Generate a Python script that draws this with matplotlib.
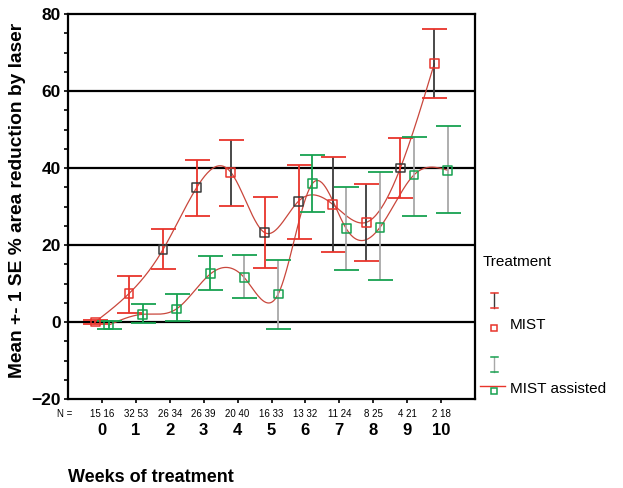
import numpy as np
import matplotlib
matplotlib.use("Agg")
import matplotlib.pyplot as plt

plt.rcParams["font.family"] = ["Liberation Sans", "DejaVu Sans"]

# data
weeks = np.arange(11)
mist_mean = [0.0, 7.4, 18.8, 35.0, 38.9, 23.2, 31.4, 30.6, 25.9, 40.0, 67.1]
mist_lo = [-0.6, 2.4, 13.7, 27.6, 30.1, 14.0, 21.5, 18.3, 15.8, 32.3, 58.1]
mist_hi = [0.6, 11.9, 24.2, 42.1, 47.4, 32.5, 40.9, 42.8, 35.9, 47.8, 76.0]

assist_mean = [-0.8, 2.0, 3.4, 12.5, 11.5, 7.3, 35.9, 24.3, 24.6, 38.2, 39.4]
assist_lo = [-1.9, -0.3, 0.2, 8.4, 6.2, -1.9, 28.7, 13.5, 10.8, 27.6, 28.3]
assist_hi = [0.2, 4.8, 7.2, 17.1, 17.4, 16.0, 43.4, 35.1, 39.0, 48.1, 50.9]

n_mist = [15, 32, 26, 26, 20, 16, 13, 11, 8, 4, 2]
n_assist = [16, 53, 34, 39, 40, 33, 32, 24, 25, 21, 18]

RED = "#e8342b"
GREEN = "#17a150"
GRAY = "#a8a8a8"
DARK = "#3a3a3a"
CURVE = "#c9473c"

# stem colours of the error bars (mixed in the original print)
mist_stems = [RED, RED, RED, RED, DARK, RED, RED, DARK, DARK, RED, DARK]
assist_stems = [GREEN, GREEN, GREEN, GREEN, GRAY, GRAY, GREEN, GRAY, GRAY, GRAY, GRAY]
mist_edges = [RED, RED, DARK, DARK, RED, DARK, DARK, RED, RED, DARK, RED]


def natural_spline(x, y, xs):
    x = np.asarray(x, float)
    y = np.asarray(y, float)
    n = len(x)
    h = np.diff(x)
    A = np.zeros((n, n))
    b = np.zeros(n)
    A[0, 0] = A[-1, -1] = 1
    for i in range(1, n - 1):
        A[i, i - 1] = h[i - 1]
        A[i, i] = 2 * (h[i - 1] + h[i])
        A[i, i + 1] = h[i]
        b[i] = 6 * ((y[i + 1] - y[i]) / h[i] - (y[i] - y[i - 1]) / h[i - 1])
    M = np.linalg.solve(A, b)
    idx = np.clip(np.searchsorted(x, xs) - 1, 0, n - 2)
    x0, x1 = x[idx], x[idx + 1]
    hh = x1 - x0
    t0, t1 = x1 - xs, xs - x0
    return (M[idx] * t0**3 + M[idx + 1] * t1**3) / (6 * hh) \
        + (y[idx] / hh - M[idx] * hh / 6) * t0 \
        + (y[idx + 1] / hh - M[idx + 1] * hh / 6) * t1


fig = plt.figure(figsize=(6.23, 4.88), dpi=100)
ax = fig.add_axes([68 / 623, 1 - 399 / 488, 407 / 623, 385 / 488])

for yy in [0, 20, 40, 60]:
    ax.axhline(yy, color="black", lw=1.6, zorder=1)


def draw_series(offset, mean, lo, hi, cap_col, stems, edges):
    xs = weeks + offset
    fine = np.linspace(xs[0], xs[-1], 400)
    ax.plot(fine, natural_spline(xs, mean, fine), color=CURVE, lw=0.9, zorder=2)
    mean = np.asarray(mean)
    yerr = [mean - np.asarray(lo), np.asarray(hi) - mean]
    _, caps, bars = ax.errorbar(xs, mean, yerr=yerr, fmt="none", capsize=9,
                                elinewidth=1.3, capthick=1.3, zorder=3)
    bars[0].set_color(stems)
    for c in caps:
        c.set_color(cap_col)
        c.set_markeredgecolor(cap_col)
    ax.scatter(xs, mean, marker="s", s=40, facecolors="none",
               edgecolors=edges, linewidths=1.1, zorder=4)


draw_series(-0.2, mist_mean, mist_lo, mist_hi, RED, mist_stems, mist_edges)
draw_series(0.2, assist_mean, assist_lo, assist_hi, GREEN, assist_stems, [GREEN] * 11)

ax.set_xlim(-1, 11)
ax.set_ylim(-20, 80)
ax.set_yticks([-20, 0, 20, 40, 60, 80])
ax.set_yticklabels(["\u221220", "0", "20", "40", "60", "80"], fontsize=12.5, fontweight="bold")
ax.set_yticks(np.arange(-20, 81, 5), minor=True)
ax.tick_params(axis="y", which="both", direction="out", length=3, width=1.2, pad=2)
ax.set_xticks(weeks)
ax.set_xticklabels([str(w) for w in weeks], fontsize=12, fontweight="bold")
ax.tick_params(axis="x", direction="out", length=3, width=1.2, pad=14)
for s in ax.spines.values():
    s.set_linewidth(1.6)

# N = row
n_y = -20 - 14.5 / 3.85
ax.text(-0.88, n_y, "N =", ha="right", va="center", fontsize=7)
for w, a, b in zip(weeks, n_mist, n_assist):
    ax.text(w, n_y, f"{a} {b}", ha="center", va="center", fontsize=7)

fig.text(68 / 623, 1 - 478 / 488, "Weeks of treatment", fontsize=13,
         fontweight="bold", ha="left", va="center")
fig.text(18 / 623, 1 - 200 / 488, "Mean +- 1 SE % area reduction by laser",
         fontsize=13.8, fontweight="bold", rotation=90, ha="center", va="center")

# legend drawn in a small pixel-like axes
lg = fig.add_axes([470 / 623, 1 - 405 / 488, 153 / 623, 160 / 488])
lg.set_xlim(470, 623)
lg.set_ylim(405, 245)
lg.axis("off")
lg.text(483, 262, "Treatment", fontsize=11, ha="left", va="center")
for yc, col, stem in [(300, RED, DARK), (364, GREEN, GRAY)]:
    lg.plot([494, 494], [yc - 7.5, yc + 7.5], color=stem, lw=1)
    lg.plot([490.5, 498], [yc - 7.5, yc - 7.5], color=col, lw=1.1)
    lg.plot([490.5, 498], [yc + 7.5, yc + 7.5], color=col, lw=1.1)
lg.plot([494], [328], marker="s", ms=5, mfc="none", mec=RED, mew=1.1)
lg.text(510, 325, "MIST", fontsize=11, ha="left", va="center")
lg.plot([480, 505], [386, 386], color=RED, lw=1)
lg.plot([494], [391], marker="s", ms=5, mfc="none", mec=GREEN, mew=1.1)
lg.text(510, 389, "MIST assisted", fontsize=11, ha="left", va="center")

fig.savefig("out.png", dpi=100)
